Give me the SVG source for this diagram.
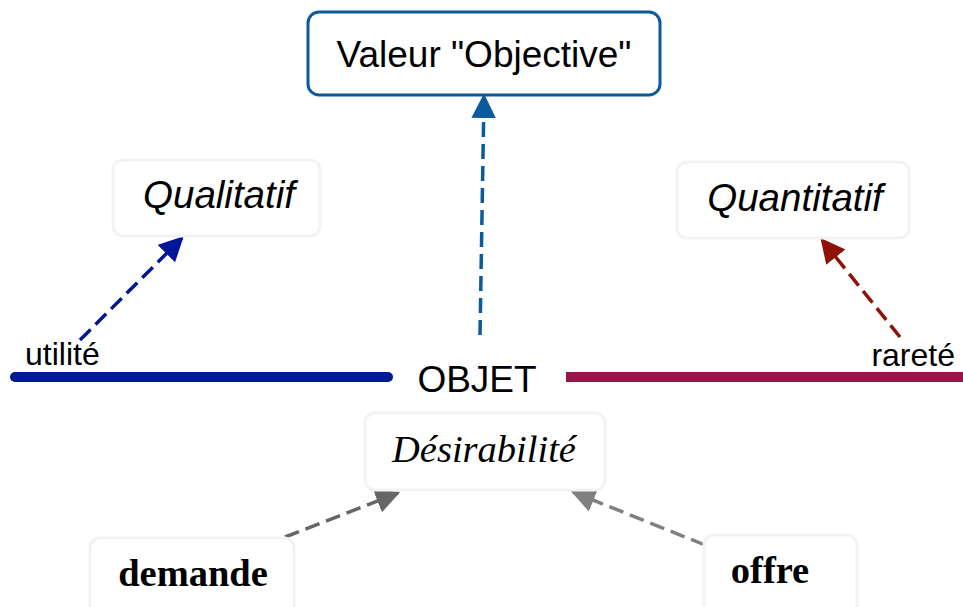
<svg xmlns="http://www.w3.org/2000/svg" width="963" height="607" viewBox="0 0 963 607">
<defs>
<style>
.sans{font-family:"Liberation Sans",Arial,sans-serif;fill:#000}
.serif{font-family:"Liberation Serif","Times New Roman",serif;fill:#000}
.soft{fill:#fff;stroke:#f3f3f3;stroke-width:3}
.dash{fill:none;stroke-width:3.5;stroke-dasharray:15,7}
</style>
<marker id="mBlue" viewBox="0 0 10 10" refX="9" refY="5" markerWidth="7" markerHeight="7" markerUnits="strokeWidth" orient="auto"><path d="M0,0 L10,5 L0,10 z" fill="#0b5a9b"/></marker>
<marker id="mNavy" viewBox="0 0 10 10" refX="9" refY="5" markerWidth="7" markerHeight="7" markerUnits="strokeWidth" orient="auto"><path d="M0,0 L10,5 L0,10 z" fill="#00169a"/></marker>
<marker id="mRed" viewBox="0 0 10 10" refX="9" refY="5" markerWidth="7" markerHeight="7" markerUnits="strokeWidth" orient="auto"><path d="M0,0 L10,5 L0,10 z" fill="#8e1208"/></marker>
<marker id="mGrey1" viewBox="0 0 10 10" refX="9" refY="5" markerWidth="7" markerHeight="7" markerUnits="strokeWidth" orient="auto"><path d="M0,0 L10,5 L0,10 z" fill="#666"/></marker>
<marker id="mGrey2" viewBox="0 0 10 10" refX="9" refY="5" markerWidth="7" markerHeight="7" markerUnits="strokeWidth" orient="auto"><path d="M0,0 L10,5 L0,10 z" fill="#808080"/></marker>
</defs>
<rect width="963" height="607" fill="#fff"/>
<g id="connectors">
<line x1="15" y1="377" x2="388" y2="377" stroke="#001a90" stroke-width="10" stroke-linecap="round"/>
<line x1="380" y1="377" x2="388" y2="377" stroke="#001a90" stroke-width="10"/>
<line x1="566" y1="377" x2="963" y2="377" stroke="#97174d" stroke-width="10"/>
<line class="dash" x1="480" y1="335" x2="484" y2="96" stroke="#0b5a9b" marker-end="url(#mBlue)"/>
<line class="dash" x1="80" y1="340" x2="182" y2="238" stroke="#00169a" marker-end="url(#mNavy)"/>
<line class="dash" x1="900" y1="337" x2="822" y2="240" stroke="#8e1208" marker-end="url(#mRed)"/>
<line class="dash" x1="285" y1="537" x2="398" y2="493" stroke="#666" marker-end="url(#mGrey1)"/>
<line class="dash" x1="705" y1="545" x2="573" y2="492" stroke="#808080" marker-end="url(#mGrey2)"/>
</g>
<g id="valeur">
<rect x="308" y="12" width="352" height="83" rx="11" fill="#fff" stroke="#0b5a9b" stroke-width="3"/>
<text class="sans" x="484" y="67" font-size="37" text-anchor="middle">Valeur "Objective"</text>
</g>
<g id="qualitatif">
<rect class="soft" x="113" y="160" width="207" height="76" rx="10"/>
<text class="sans" x="219" y="208" font-size="38.5" font-style="italic" text-anchor="middle">Qualitatif</text>
</g>
<g id="quantitatif">
<rect class="soft" x="677" y="162" width="232" height="76" rx="10"/>
<text class="sans" x="795" y="211" font-size="38.5" font-style="italic" text-anchor="middle">Quantitatif</text>
</g>
<g id="utilite">
<text class="sans" x="25" y="365" font-size="32">utilité</text>
</g>
<g id="objet">
<text class="sans" x="477" y="392" font-size="37" text-anchor="middle">OBJET</text>
</g>
<g id="rarete">
<text class="sans" x="955" y="366" font-size="32" text-anchor="end">rareté</text>
</g>
<g id="desirabilite">
<rect class="soft" x="365" y="413" width="240" height="77" rx="10"/>
<text class="serif" x="484" y="462" font-size="38.5" font-style="italic" text-anchor="middle">Désirabilité</text>
</g>
<g id="demande">
<rect class="soft" x="90" y="538" width="204" height="80" rx="10"/>
<text class="serif" x="193" y="586" font-size="38.5" font-weight="bold" text-anchor="middle">demande</text>
</g>
<g id="offre">
<rect class="soft" x="704" y="535" width="153" height="80" rx="10"/>
<text class="serif" x="770" y="583" font-size="38.5" font-weight="bold" text-anchor="middle">offre</text>
</g>
</svg>
